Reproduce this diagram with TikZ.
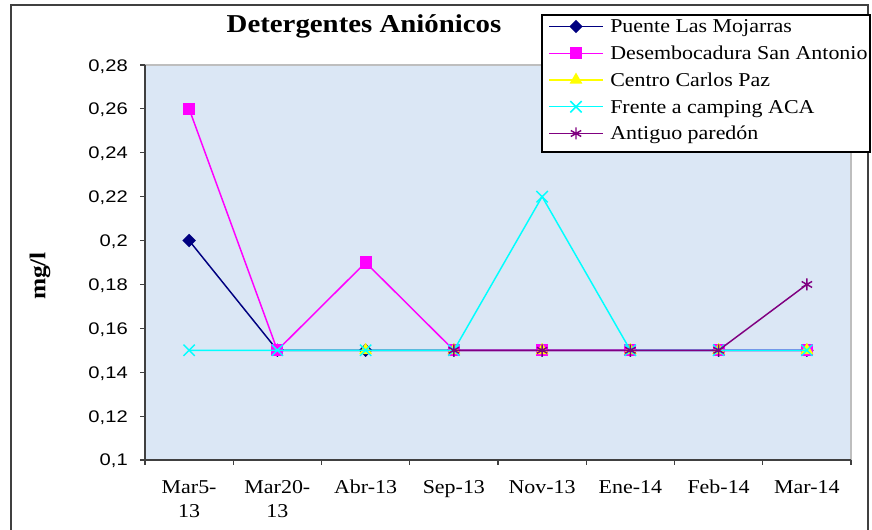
\documentclass[tikz,border=0pt]{standalone}
\usepackage{fontspec}
\setmainfont{Liberation Serif}[FakeStretch=1.12]
\setsansfont{Liberation Sans}[FakeStretch=1.2]
\usetikzlibrary{plotmarks}

\definecolor{plotbg}{RGB}{219,231,245}
\definecolor{framegray}{RGB}{64,64,64}
\definecolor{edgegray}{RGB}{190,190,190}
\definecolor{mojarras}{RGB}{0,0,128}
\definecolor{sanantonio}{RGB}{255,0,255}
\definecolor{carlospaz}{RGB}{255,255,0}
\definecolor{campingaca}{RGB}{0,255,255}
\definecolor{paredon}{RGB}{128,0,128}

\newcommand{\doslineas}[2]{\begin{tabular}[t]{@{}c@{}}#1\\#2\end{tabular}}

\tikzset{
  serie/.style={line width=1.1pt, mark options={solid}},
  serA/.style={serie, draw=mojarras, mark=square*, mark size=3pt,
    mark options={fill=mojarras, rotate=45}},
  serB/.style={serie, draw=sanantonio, mark=square*, mark size=4pt,
    mark options={fill=sanantonio}},
  serC/.style={serie, draw=carlospaz, mark=triangle*, mark size=4.5pt,
    mark options={fill=carlospaz}},
  serD/.style={serie, draw=campingaca, mark=x, mark size=6pt},
  serE/.style={serie, draw=paredon, mark=asterisk, mark size=4.5pt},
  ticklab/.style={font=\sffamily\fontsize{12.6}{14}\selectfont, inner sep=0pt,
    anchor=base east},
  catlab/.style={font=\fontsize{14.7}{18}\selectfont, inner sep=0pt, anchor=base},
  leglab/.style={font=\fontsize{14.7}{17}\selectfont, inner sep=0pt, anchor=base west}
}

\begin{document}
\begin{tikzpicture}[x=0.75pt, y=0.75pt]
\useasboundingbox (0,0) rectangle (872,529);

% outer frame
\draw[framegray, line width=1.5pt] (11,-10) rectangle (868,524);

\node[font=\bfseries\fontsize{19.3}{22}\selectfont, anchor=base] (titulo) at (364,496)
  {Detergentes Aniónicos};
\node[font=\bfseries\fontsize{17}{20}\selectfont, rotate=90] (unidad) at (40,253) {mg/l};

\begin{scope}[shift={(100.875,-150.44)}, x=66.1875pt, y=16.458pt]

% plot area
\fill[plotbg] (0.5,10) rectangle (8.5,28);
\draw[edgegray, line width=0.8pt] (0.5,28) -- (8.5,28) -- (8.5,10);
\draw[framegray, line width=0.8pt] (0.5,28) -- (0.5,10) -- (8.5,10);

\foreach \v/\t in {10/{0,1},12/{0,12},14/{0,14},16/{0,16},18/{0,18},
                   20/{0,2},22/{0,22},24/{0,24},26/{0,26},28/{0,28}}{
  \draw[framegray, line width=0.8pt] (0.5,\v) -- ++(-3.75pt,0);
  \node[ticklab, xshift=-12.75pt, yshift=-4.5pt] (ylab\v) at (0.5,\v) {\t};
}
\foreach \x in {0.5,1.5,...,8.5}
  \draw[framegray, line width=0.8pt] (\x,10) -- ++(0,-3.5pt);
\foreach \t [count=\i] in {{\doslineas{Mar5-}{13}},{\doslineas{Mar20-}{13}},
    Abr-13,Sep-13,Nov-13,Ene-14,Feb-14,Mar-14}
  \node[catlab, yshift=-24.75pt] (xlab\i) at (\i,10) {\t};

% series
\draw[serA] plot coordinates {(1,20) (2,15) (3,15) (4,15) (5,15) (6,15) (7,15) (8,15)};
\draw[serB] plot coordinates {(1,26) (2,15) (3,19) (4,15) (5,15) (6,15) (7,15) (8,15)};
\draw[serC] plot coordinates {(3,15) (4,15) (5,15) (6,15) (7,15) (8,15)};
\draw[serD] plot coordinates {(1,15) (2,15) (3,15) (4,15) (5,22) (6,15) (7,15) (8,15)};
\draw[serE] plot coordinates {(4,15) (5,15) (6,15) (7,15) (8,18)};
\end{scope}

% legend
\draw[black, line width=0.8pt, fill=white] (542,514) rectangle (870,377);
\foreach \s/\t [count=\i, evaluate=\i as \yy using 496-26.75*(\i-1)] in
  {serA/Puente Las Mojarras, serB/Desembocadura San Antonio, serC/Centro Carlos Paz,
   serD/Frente a camping ACA, serE/Antiguo paredón}{
  \draw[\s] plot[mark indices={2}] coordinates {(549,\yy+6.5) (576,\yy+6.5) (603,\yy+6.5)};
  \node[leglab] (leg\i) at (610,\yy) {\t};
}
\end{tikzpicture}
\end{document}
